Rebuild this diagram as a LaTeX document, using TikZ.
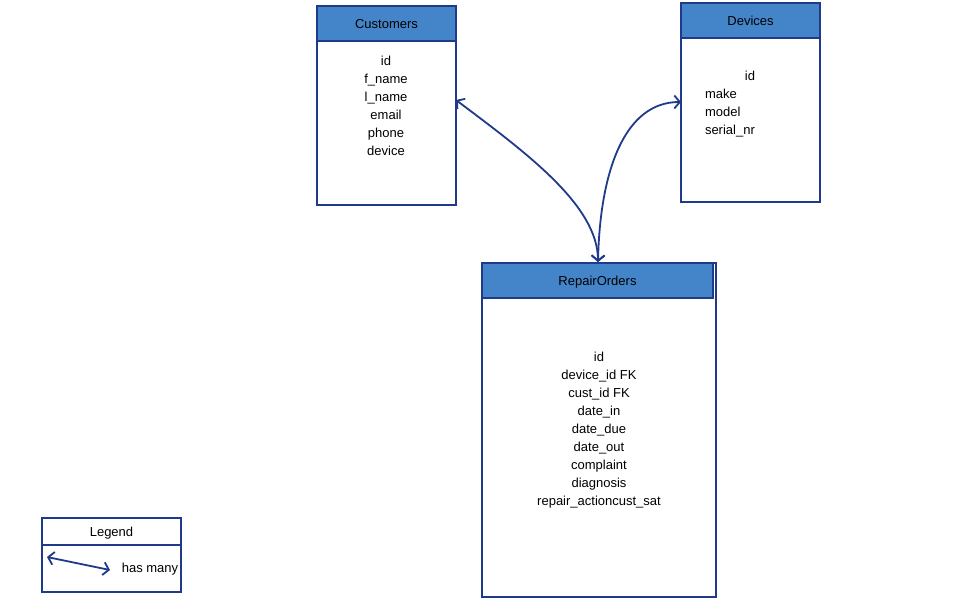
\documentclass[tikz,border=0pt]{standalone}
\usepackage{fontspec}
\setmainfont{Liberation Sans}
\usetikzlibrary{arrows.meta,calc}
\definecolor{edge}{HTML}{1F3A8A}
\definecolor{head}{HTML}{4485CA}
\begin{document}
\begin{tikzpicture}[x=1pt,y=-1pt,
  every node/.style={font=\fontsize{13}{18}\selectfont, inner sep=0pt, outer sep=0pt},
  tablebox/.style={draw=edge, line width=1.8pt, fill=white, anchor=north west},
  tablehead/.style={draw=edge, line width=1.8pt, fill=head, anchor=north west, text=black,
    text height=9.4pt, text depth=0pt},
  rel/.style={draw=edge, line width=1.8pt, {Straight Barb[length=5.5pt,width=13pt]}-{Straight Barb[length=5.5pt,width=13pt]}},
  rows/.style={align=center, anchor=north}
]
\useasboundingbox (0,0) rectangle (960,600);

% Customers table
\node[tablebox, minimum width=139pt, minimum height=199pt] (cust) at (317,6) {};
\node[tablehead, minimum width=139pt, minimum height=35pt] (custh) at (317,6) {Customers};
\node[rows] (custrows) at (386,56) {id\\f\_name\\l\_name\\email\\phone\\device};

% Devices table
\node[tablebox, minimum width=139pt, minimum height=199pt] (dev) at (681,3) {};
\node[tablehead, minimum width=139pt, minimum height=35pt] (devh) at (681,3) {Devices};
\node (devid) at (750,76) {id};
\node[align=left, anchor=north west] (devrows) at (705,89) {make\\model\\serial\_nr};

% RepairOrders table
\node[tablebox, minimum width=234pt, minimum height=334pt] (ro) at (482,263) {};
\node[tablehead, minimum width=231pt, minimum height=35pt] (roh) at (482,263) {RepairOrders};
\node[rows] (rorows) at (599,352) {id\\device\_id FK\\cust\_id FK\\date\_in\\date\_due\\date\_out\\complaint\\diagnosis\\repair\_actioncust\_sat};

% Legend
\node[tablebox, minimum width=139pt, minimum height=74pt] (leg) at (42,518) {};
\node[tablehead, fill=white, minimum width=139pt, minimum height=27pt] (legh) at (42,518) {Legend};
\node (legtext) at (150,569) {has many};
\coordinate (lega) at (47,557);
\coordinate (legb) at (110,570);
\draw[rel] (lega) -- (legb);

% Relationships
\coordinate (custend) at ($(cust.north east)+(0,94)$);
\coordinate (devend) at ($(dev.north west)+(0,99)$);
\coordinate (roend) at ($(ro.north west)+(116,-1)$);
\draw[rel] (custend) .. controls (525,152) and (598,205) .. (roend);
\draw[rel] (roend) .. controls (600,170) and (625,102) .. (devend);
\end{tikzpicture}
\end{document}
